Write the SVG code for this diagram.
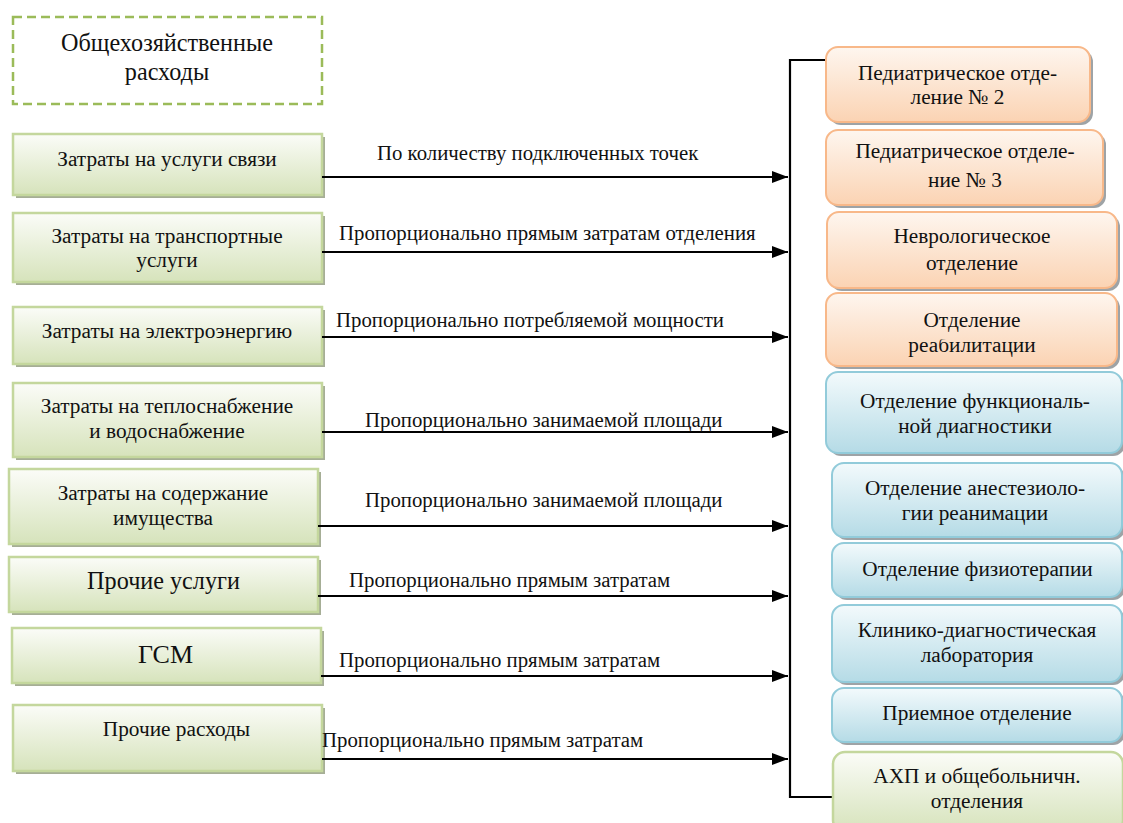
<svg xmlns="http://www.w3.org/2000/svg" width="1123" height="823" viewBox="0 0 1123 823">
<defs>
<linearGradient id="gG" x1="0" y1="0" x2="0" y2="1"><stop offset="0" stop-color="#fbfcf8"/><stop offset="1" stop-color="#d6e3bb"/></linearGradient>
<linearGradient id="gO" x1="0" y1="0" x2="0" y2="1"><stop offset="0" stop-color="#fef6ef"/><stop offset="1" stop-color="#fbd3b3"/></linearGradient>
<linearGradient id="gB" x1="0" y1="0" x2="0" y2="1"><stop offset="0" stop-color="#f3fafc"/><stop offset="1" stop-color="#b5dbe6"/></linearGradient>
<marker id="arr" markerWidth="16" markerHeight="12" refX="16" refY="6" orient="auto" markerUnits="userSpaceOnUse"><path d="M0,0 L16,6 L0,12 Z" fill="#000"/></marker>
<clipPath id="clipReab"><rect x="826" y="339.5" width="300" height="30"/></clipPath>
<style>
text{font-family:"Liberation Serif","Times New Roman",serif;fill:#111;}
.t{font-size:21.3px;text-anchor:middle;}
.big{font-size:24.2px;text-anchor:middle;}
.gsm{font-size:26px;text-anchor:middle;}
.l{font-size:20.8px;}
.r{font-size:21.3px;text-anchor:middle;}
.sh{fill:#a6ae96;}
.shr{fill:#9ea3a6;}
.bg{fill:url(#gG);stroke:#c4d79d;stroke-width:2.5;}
.bo{fill:url(#gO);stroke:#f8b889;stroke-width:2;}
.bb{fill:url(#gB);stroke:#92cbda;stroke-width:2;}
.c{stroke:#000;stroke-width:2.2;fill:none;}
</style>
</defs>
<g id="general">
<rect x="13" y="17" width="309" height="87" fill="none" stroke="#9bbb59" stroke-width="2.5" stroke-dasharray="9,5"/>
<text x="167" y="51" class="big">Общехозяйственные</text>
<text x="167" y="80" class="big">расходы</text>
</g>
<g id="n1"><rect x="16" y="137" width="309" height="61" class="sh"/><rect x="13" y="134" width="309" height="61" class="bg"/><text x="167" y="166" class="t">Затраты на услуги связи</text></g>
<g id="n2"><rect x="16" y="216" width="309" height="69" class="sh"/><rect x="13" y="213" width="309" height="69" class="bg"/><text x="167" y="243" class="t">Затраты на транспортные</text><text x="167" y="267" class="t">услуги</text></g>
<g id="n3"><rect x="16" y="310" width="309" height="57" class="sh"/><rect x="13" y="307" width="309" height="57" class="bg"/><text x="167" y="338" class="t">Затраты на электроэнергию</text></g>
<g id="n4"><rect x="16" y="386" width="309" height="74" class="sh"/><rect x="13" y="383" width="309" height="74" class="bg"/><text x="167" y="413" class="t">Затраты на теплоснабжение</text><text x="167" y="438" class="t">и водоснабжение</text></g>
<g id="n5"><rect x="12" y="472" width="309" height="75" class="sh"/><rect x="9" y="469" width="309" height="75" class="bg"/><text x="163" y="500" class="t">Затраты на содержание</text><text x="163" y="525" class="t">имущества</text></g>
<g id="n6"><rect x="12" y="560" width="309" height="55" class="sh"/><rect x="9" y="557" width="309" height="55" class="bg"/><text x="163.5" y="589" class="big">Прочие услуги</text></g>
<g id="n7"><rect x="15" y="631" width="309" height="55" class="sh"/><rect x="12" y="628" width="309" height="55" class="bg"/><text x="165.5" y="663" class="gsm">ГСМ</text></g>
<g id="n8"><rect x="16" y="708" width="309" height="66" class="sh"/><rect x="13" y="705" width="309" height="66" class="bg"/><text x="176.5" y="736" class="t">Прочие расходы</text></g>

<g id="connectors">
<path class="c" d="M322,177 H788" marker-end="url(#arr)"/>
<path class="c" d="M322,252 H788" marker-end="url(#arr)"/>
<path class="c" d="M322,337 H788" marker-end="url(#arr)"/>
<path class="c" d="M322,432 H788" marker-end="url(#arr)"/>
<path class="c" d="M318,526 H788" marker-end="url(#arr)"/>
<path class="c" d="M318,596 H788" marker-end="url(#arr)"/>
<path class="c" d="M321,676 H788" marker-end="url(#arr)"/>
<path class="c" d="M322,759 H788" marker-end="url(#arr)"/>
<path class="c" d="M828,60 H790 V797 H834"/>
<text x="377" y="160" class="l">По количеству подключенных точек</text>
<text x="339" y="240" class="l">Пропорционально прямым затратам отделения</text>
<text x="336" y="327" class="l">Пропорционально потребляемой мощности</text>
<text x="365" y="427" class="l">Пропорционально занимаемой площади</text>
<text x="365" y="507" class="l">Пропорционально занимаемой площади</text>
<text x="349" y="587" class="l">Пропорционально прямым затратам</text>
<text x="339" y="667" class="l">Пропорционально прямым затратам</text>
<text x="322" y="747" class="l">Пропорционально прямым затратам</text>
</g>

<g id="r1"><rect x="829" y="50" width="264" height="75" rx="12" class="shr"/><rect x="826" y="47" width="264" height="75" rx="12" class="bo"/><text x="957.5" y="80" class="r">Педиатрическое отде-</text><text x="957.5" y="104" class="r">ление № 2</text></g>
<g id="r2"><rect x="829" y="133" width="277" height="75" rx="12" class="shr"/><rect x="826" y="130" width="277" height="75" rx="12" class="bo"/><text x="965" y="158" class="r">Педиатрическое отделе-</text><text x="965" y="187" class="r">ние № 3</text></g>
<g id="r3"><rect x="830" y="215" width="290" height="76" rx="12" class="shr"/><rect x="827" y="212" width="290" height="76" rx="12" class="bo"/><text x="972" y="243" class="r">Неврологическое</text><text x="972" y="270" class="r">отделение</text></g>
<g id="r4"><rect x="829" y="296" width="291" height="73" rx="12" class="shr"/><rect x="826" y="293" width="291" height="73" rx="12" class="bo"/><text x="972" y="327" class="r">Отделение</text><text x="972" y="352" class="r" clip-path="url(#clipReab)">реабилитации</text></g>
<g id="r5"><rect x="829" y="375" width="296" height="81" rx="12" class="shr"/><rect x="826" y="372" width="296" height="81" rx="12" class="bb"/><text x="975" y="408" class="r">Отделение функциональ-</text><text x="975" y="433" class="r">ной диагностики</text></g>
<g id="r6"><rect x="835" y="466" width="290" height="74" rx="12" class="shr"/><rect x="832" y="463" width="290" height="74" rx="12" class="bb"/><text x="975" y="495" class="r">Отделение анестезиоло-</text><text x="975" y="520" class="r">гии реанимации</text></g>
<g id="r7"><rect x="835" y="546" width="290" height="54" rx="12" class="shr"/><rect x="832" y="543" width="290" height="54" rx="12" class="bb"/><text x="977.5" y="576" class="r">Отделение физиотерапии</text></g>
<g id="r8"><rect x="835" y="608" width="290" height="77" rx="12" class="shr"/><rect x="832" y="605" width="290" height="77" rx="12" class="bb"/><text x="977" y="637" class="r">Клинико-диагностическая</text><text x="977" y="662" class="r">лаборатория</text></g>
<g id="r9"><rect x="835" y="691" width="290" height="54" rx="12" class="shr"/><rect x="832" y="688" width="290" height="54" rx="12" class="bb"/><text x="977" y="720" class="r">Приемное отделение</text></g>
<g id="r10"><rect x="836" y="755" width="290" height="80" rx="12" class="shr"/><rect x="833" y="752" width="290" height="80" rx="12" class="bg"/><text x="977" y="783" class="r">АХП и общебольничн.</text><text x="977" y="808" class="r">отделения</text></g>
</svg>
